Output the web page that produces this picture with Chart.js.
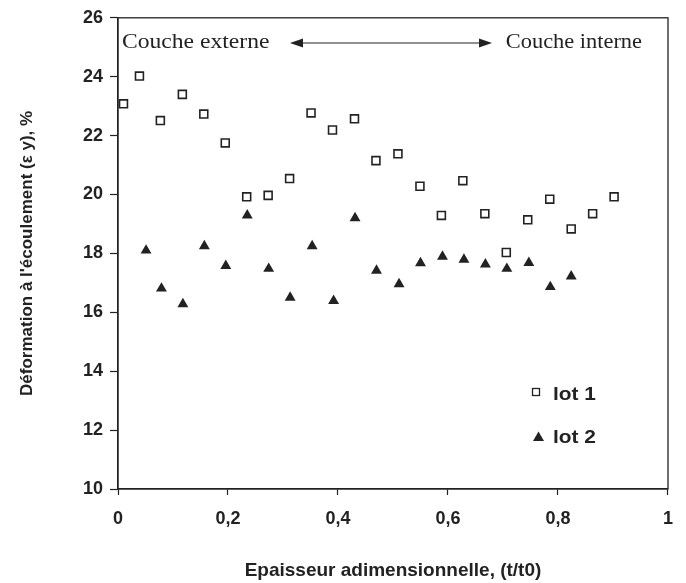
<!DOCTYPE html>
<html>
<head>
<meta charset="utf-8">
<script src="https://cdn.jsdelivr.net/npm/chart.js@4"></script>
<style>
  html, body { margin: 0; padding: 0; background: #fff; }
  #wrap { width: 686px; height: 583px; }
</style>
</head>
<body>
<div id="wrap"><canvas id="chart" width="686" height="583"></canvas></div>
<script>
// Epaisseur adimensionnelle (t/t0) et déformation à l'écoulement (%)
const lot1X = [0.010, 0.039, 0.077, 0.117, 0.156, 0.195, 0.234, 0.273, 0.312, 0.351, 0.390, 0.430,
               0.469, 0.509, 0.549, 0.588, 0.627, 0.667, 0.706, 0.745, 0.785, 0.824, 0.863, 0.902];
const lot1Y = [23.08, 24.02, 22.51, 23.40, 22.73, 21.75, 19.92, 19.97, 20.54, 22.77, 22.19, 22.57,
               21.15, 21.38, 20.28, 19.29, 20.47, 19.35, 18.03, 19.14, 19.84, 18.83, 19.35, 19.92];
const lot2X = [0.051, 0.079, 0.118, 0.157, 0.196, 0.235, 0.274, 0.313, 0.353, 0.392, 0.431,
               0.470, 0.511, 0.550, 0.590, 0.629, 0.668, 0.707, 0.747, 0.786, 0.824];
const lot2Y = [18.10, 16.81, 16.28, 18.25, 17.58, 19.29, 17.48, 16.50, 18.25, 16.39, 19.20,
               17.42, 16.96, 17.67, 17.89, 17.79, 17.63, 17.48, 17.68, 16.86, 17.22];
const seriesNames = ["lot 1", "lot 2"];
const xTicks = [0, 0.2, 0.4, 0.6, 0.8, 1];
const yTicks = [10, 12, 14, 16, 18, 20, 22, 24, 26];

const ink = "#222";
const sans = '"Liberation Sans", Arial, sans-serif';
const toPoints = (xs, ys) => xs.map((x, i) => ({ x: x, y: ys[i] }));
const fmtTick = (v) => String(v).replace(".", ",");

// text slightly widened, like the rest of the figure
function wideText(ctx, text, x, y, align, stretch) {
  ctx.save();
  ctx.translate(x, y);
  ctx.scale(stretch, 1);
  ctx.textAlign = align;
  ctx.fillText(text, 0, 0);
  ctx.restore();
}

// box around the plot, arrow annotation and the in-plot legend
const decorations = {
  id: "decorations",
  afterDraw(chart) {
    const { ctx, chartArea: a } = chart;
    ctx.save();
    ctx.strokeStyle = ink;
    ctx.fillStyle = ink;
    ctx.lineWidth = 1.3;
    ctx.strokeRect(a.left, a.top, a.right - a.left, a.bottom - a.top);

    // Couche externe <----> Couche interne
    const y = 43;
    const x1 = 290, x2 = 492;
    ctx.beginPath();
    ctx.lineWidth = 1.2;
    ctx.moveTo(x1 + 6, y);
    ctx.lineTo(x2 - 6, y);
    ctx.stroke();
    ctx.beginPath();
    ctx.moveTo(x1, y); ctx.lineTo(x1 + 13, y - 4.5); ctx.lineTo(x1 + 13, y + 4.5); ctx.closePath();
    ctx.fill();
    ctx.beginPath();
    ctx.moveTo(x2, y); ctx.lineTo(x2 - 13, y - 4.5); ctx.lineTo(x2 - 13, y + 4.5); ctx.closePath();
    ctx.fill();
    ctx.font = '20px "Liberation Serif", "Times New Roman", serif';
    ctx.textBaseline = "middle";
    wideText(ctx, "Couche externe", 122, y, "left", 1.18);
    wideText(ctx, "Couche interne", 642, y, "right", 1.12);

    // legend
    ctx.font = "bold 19px " + sans;
    ctx.lineWidth = 1.3;
    ctx.fillStyle = "#fff";
    ctx.fillRect(536 - 3.5, 392 - 3.5, 7, 7);
    ctx.strokeRect(536 - 3.5, 392 - 3.5, 7, 7);
    ctx.fillStyle = ink;
    wideText(ctx, seriesNames[0], 553, 395, "left", 1.1);
    ctx.beginPath();
    ctx.moveTo(538.5, 431.5); ctx.lineTo(544, 441); ctx.lineTo(533, 441); ctx.closePath();
    ctx.fill();
    wideText(ctx, seriesNames[1], 553, 437.5, "left", 1.1);
    ctx.restore();
  }
};

new Chart(document.getElementById("chart"), {
  type: "scatter",
  data: {
    datasets: [
      {
        label: seriesNames[0],
        data: toPoints(lot1X, lot1Y),
        pointStyle: "rect",
        pointRadius: 5.6,
        pointBackgroundColor: "#fff",
        pointBorderColor: ink,
        pointBorderWidth: 1.6,
      },
      {
        label: seriesNames[1],
        data: toPoints(lot2X, lot2Y),
        pointStyle: "triangle",
        pointRadius: 6.3,
        pointBackgroundColor: ink,
        pointBorderColor: ink,
        pointBorderWidth: 0,
      },
    ],
  },
  options: {
    responsive: false,
    animation: false,
    layout: { padding: { top: 17, right: 18, left: 0, bottom: 0 } },
    plugins: { legend: { display: false }, tooltip: { enabled: false } },
    scales: {
      x: {
        type: "linear",
        min: 0,
        max: 1,
        afterBuildTicks(scale) { scale.ticks = xTicks.map((v) => ({ value: v })); },
        afterFit(scale) { scale.height = 94; },
        ticks: {
          callback: fmtTick,
          color: ink,
          padding: 13,
          font: { family: sans, size: 18, weight: "bold" },
        },
        grid: { drawOnChartArea: false, tickLength: 6, tickColor: ink, tickWidth: 1.2 },
        border: { color: ink, width: 1.3 },
        title: {
          display: true,
          text: "Epaisseur adimensionnelle, (t/t0)",
          color: ink,
          padding: { top: 0, bottom: 1 },
          font: { family: sans, size: 19, weight: "bold" },
        },
      },
      y: {
        min: 10,
        max: 26,
        afterBuildTicks(scale) { scale.ticks = yTicks.map((v) => ({ value: v })); },
        afterFit(scale) { scale.width = 118; },
        ticks: {
          color: ink,
          padding: 7,
          font: { family: sans, size: 18, weight: "bold" },
        },
        grid: { drawOnChartArea: false, tickLength: 8, tickColor: ink, tickWidth: 1.2 },
        border: { color: ink, width: 1.3 },
        title: {
          display: true,
          text: "Déformation à l'écoulement (ε y), %",
          color: ink,
          padding: { top: 17, bottom: 0 },
          font: { family: sans, size: 17, weight: "bold" },
        },
      },
    },
  },
  plugins: [decorations],
});
</script>
</body>
</html>
